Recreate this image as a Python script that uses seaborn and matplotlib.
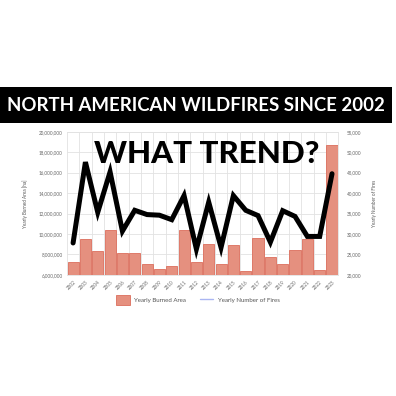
import matplotlib
matplotlib.use("Agg")
import pandas as pd
import matplotlib.pyplot as plt
import seaborn as sns
from matplotlib.patches import Rectangle, Patch
from matplotlib.lines import Line2D
from matplotlib.ticker import FuncFormatter, MultipleLocator

# Data
years = [str(y) for y in range(2002, 2024)]
burned_area = [7.25e6, 9.5e6, 8.3e6, 10.4e6, 8.1e6, 8.1e6, 7.1e6, 6.55e6, 6.9e6, 10.4e6, 7.3e6,
               9.0e6, 7.1e6, 8.9e6, 6.4e6, 9.6e6, 7.7e6, 7.1e6, 8.4e6, 9.5e6, 6.5e6, 18.75e6]
num_fires = [27800, 47600, 35300, 45200, 30700, 35800, 34750, 34600, 33500, 39400, 26300,
             37800, 26700, 39400, 35800, 34500, 28000, 35700, 34300, 29400, 29400, 44750]

df = pd.DataFrame({"Year": years, "Area": burned_area, "Fires": num_fires})

sns.set_style("white")
plt.rcParams["font.family"] = ["Lato", "DejaVu Sans"]

fig = plt.figure(figsize=(3.96, 3.96), dpi=100)
ax = fig.add_axes([0.169, 0.306, 0.685, 0.361])

# --- bars: yearly burned area ---
sns.barplot(data=df, x="Year", y="Area", color="#e5907f", saturation=1, width=0.9,
            edgecolor="#dc6e5c", linewidth=0.6, ax=ax, zorder=2)
ax.set_ylim(6e6, 20e6)
ax.yaxis.set_major_locator(MultipleLocator(2e6))
ax.yaxis.set_major_formatter(FuncFormatter(lambda v, p: f"{int(v):,}"))
ax.set_xlim(-0.5, len(years) - 0.5)
ax.set_xticks([i + 0.5 for i in range(len(years) - 1)], minor=True)
ax.grid(True, which="major", axis="y", color="#e2e2e2", linewidth=0.6, zorder=0)
ax.grid(True, which="minor", axis="x", color="#e2e2e2", linewidth=0.6, zorder=0)
ax.tick_params(axis="x", which="both", length=0)
ax.tick_params(axis="y", length=0, labelsize=3.3, labelcolor="#666666", pad=3)
plt.setp(ax.get_xticklabels(), rotation=45, ha="right", rotation_mode="anchor",
         fontsize=3.3, color="#666666")
ax.set_xlabel("")
ax.set_ylabel("Yearly Burned Area [ha]", fontsize=3.3, color="#555555", labelpad=8)
for s in ax.spines.values():
    s.set_color("#e2e2e2")
    s.set_linewidth(0.6)

# --- line: yearly number of fires ---
ax2 = ax.twinx()
sns.lineplot(data=df, x="Year", y="Fires", color="black", linewidth=3.6, ax=ax2,
             solid_joinstyle="miter", zorder=3)
ax2.set_ylim(20000, 55000)
ax2.yaxis.set_major_locator(MultipleLocator(5000))
ax2.yaxis.set_major_formatter(FuncFormatter(lambda v, p: f"{int(v):,}"))
ax2.tick_params(axis="y", length=0, labelsize=3.3, labelcolor="#666666", pad=6)
ax2.set_ylabel("Yearly Number of Fires", fontsize=3.3, color="#555555", labelpad=8)
for s in ax2.spines.values():
    s.set_visible(False)

# legend
handles = [Patch(facecolor="#e5907f", edgecolor="#dc6e5c", linewidth=0.6),
           Line2D([0], [0], color="#aab6f2", linewidth=1.0)]
fig.legend(handles, ["Yearly Burned Area", "Yearly Number of Fires"], loc="center",
           bbox_to_anchor=(0.5, 0.242), ncol=2, frameon=False, fontsize=4.4,
           handlelength=2.2, handleheight=2.0, columnspacing=2.2, labelcolor="#555555")

# banner
fig.patches.append(Rectangle((0, 0.689), 0.99, 0.091, transform=fig.transFigure,
                             facecolor="black", edgecolor="none", zorder=0))
fig.text(0.494, 0.734, "NORTH AMERICAN WILDFIRES SINCE 2002", color="white",
         fontsize=13.4, fontweight="bold", ha="center", va="center")

# overlay text
fig.text(0.521, 0.611, "WHAT TREND?", color="black", fontsize=22.5, fontweight="black",
         ha="center", va="center", zorder=10)

fig.savefig("out.png", dpi=100)
